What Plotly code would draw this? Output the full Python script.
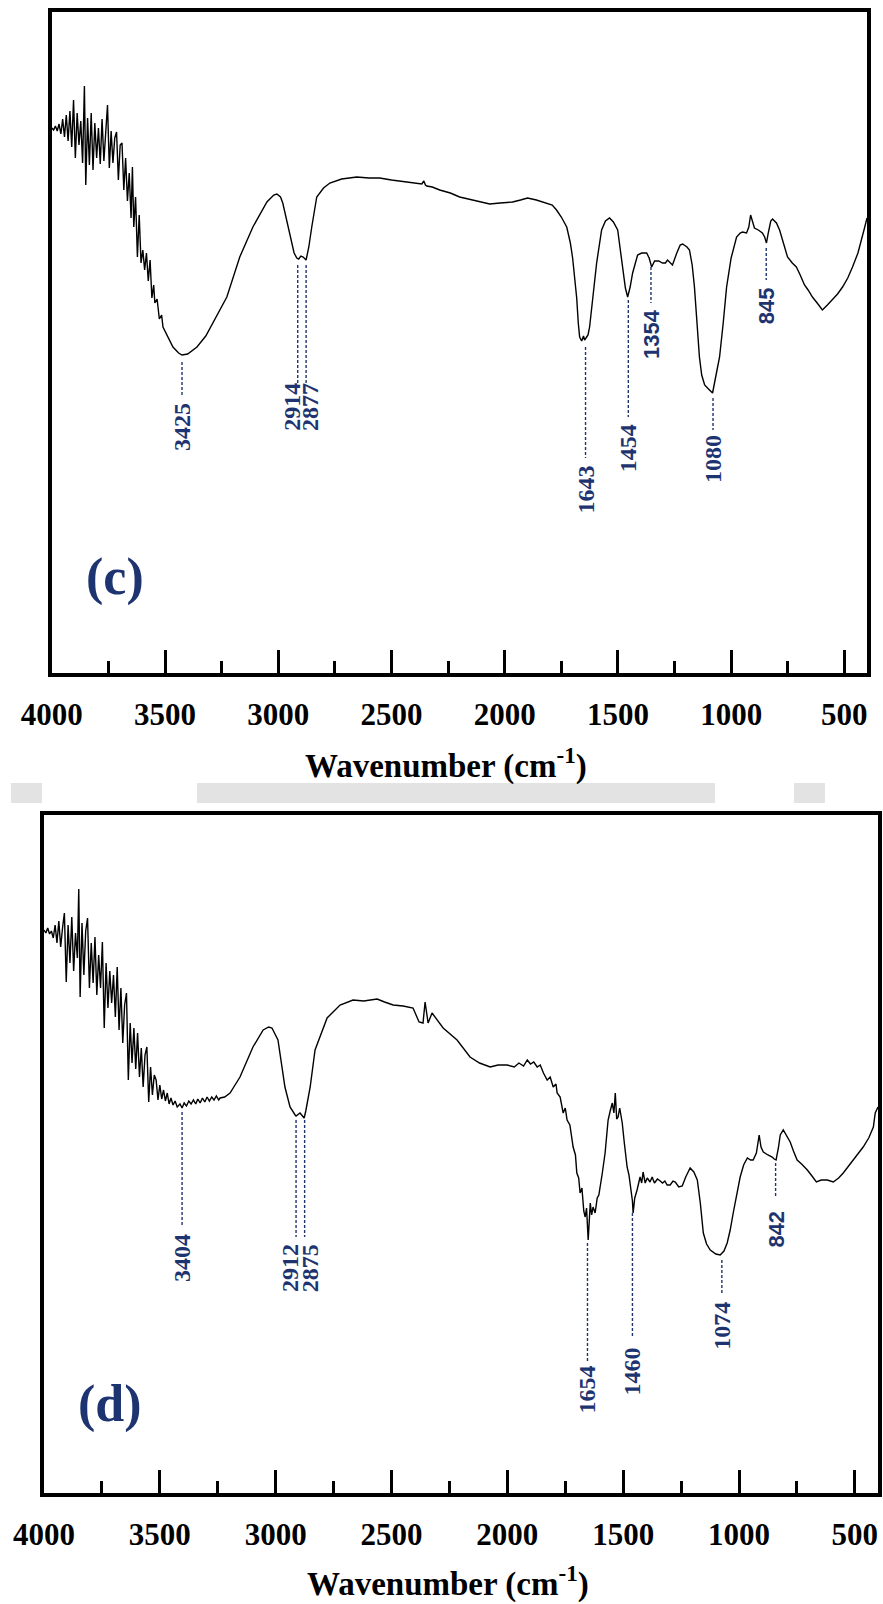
import plotly.graph_objects as go

# ---------------- Panel (c) spectrum (wavenumber cm-1, transmittance a.u.) ----------------
WN_C = [4000, 3992, 3984, 3976, 3968, 3960, 3952, 3944, 3936, 3928, 3920, 3912, 3904, 3896, 3888, 3880,
        3872, 3864, 3856, 3850, 3842, 3834, 3826, 3818, 3810, 3802, 3794, 3786, 3778, 3770, 3762, 3754,
        3746, 3738, 3730, 3722, 3714, 3706, 3698, 3690, 3682, 3674, 3666, 3658, 3650, 3644, 3638, 3630,
        3622, 3614, 3606, 3598, 3590, 3582, 3574, 3566, 3558, 3550, 3545, 3535, 3525, 3515, 3509,
        3465, 3440, 3425, 3400, 3359, 3320, 3289, 3227, 3170, 3112, 3050, 3020, 3006, 2990, 2980, 2965,
        2949, 2930, 2918, 2910, 2900, 2890, 2877, 2865, 2852, 2830, 2800, 2772, 2720, 2653, 2600, 2552,
        2500, 2433, 2400, 2366, 2357, 2350, 2344, 2320, 2287, 2240, 2199, 2130, 2066, 2020, 1965, 1930,
        1899, 1860, 1815, 1790, 1771, 1750, 1726, 1710, 1700, 1690, 1682, 1675, 1669, 1660, 1652, 1647,
        1640, 1632, 1625, 1610, 1594, 1572, 1555, 1537, 1520, 1501, 1490, 1479, 1467, 1457, 1446, 1435,
        1420, 1413, 1395, 1373, 1362, 1351, 1338, 1320, 1303, 1290, 1281, 1270, 1259, 1240, 1225, 1214,
        1195, 1184, 1172, 1162, 1150, 1140, 1130, 1117, 1100, 1082, 1070, 1051, 1035, 1020, 1000, 976,
        960, 950, 932, 922, 914, 905, 897, 880, 862, 852, 844, 836, 825, 817, 800, 786,
        770, 751, 730, 712, 695, 676, 660, 641, 620, 597, 575, 553, 530, 508, 485, 464,
        440, 411, 400]
T_C = [54.5, 54.3, 54.7, 54.2, 54.9, 53.9, 55.4, 53.6, 55.8, 53.2, 56.2, 52.6, 57.3, 51.5, 56.0, 52.8,
       55.2, 51.0, 58.7, 48.8, 55.5, 50.8, 56.0, 50.3, 55.0, 51.5, 54.5, 50.9, 55.4, 51.2, 54.0, 56.8,
       50.5, 54.2, 51.0, 53.5, 54.1, 49.3, 52.8, 53.0, 48.3, 51.5, 47.2, 50.0, 45.5, 50.6, 44.6, 47.6,
       41.6, 45.8, 41.0, 42.3, 40.3, 42.0, 39.2, 41.3, 37.5, 38.8, 37.0, 37.4, 35.4, 35.8, 34.6,
       32.6, 32.0, 31.8, 31.9, 32.6, 33.7, 35.0, 37.6, 41.6, 44.6, 47.1, 47.8, 47.9, 47.6, 47.0, 45.5,
       43.6, 42.0, 41.5, 41.4, 41.7, 41.6, 41.3, 42.6, 44.6, 47.6, 48.5, 49.0, 49.4, 49.6, 49.5, 49.5,
       49.3, 49.1, 49.0, 48.9, 49.2, 48.8, 48.7, 48.6, 48.3, 48.0, 47.6, 47.2, 46.9, 47.0, 47.1, 47.3,
       47.5, 47.3, 47.0, 46.8, 46.3, 45.6, 44.6, 43.0, 41.5, 39.5, 37.5, 35.0, 33.6, 33.2, 33.7, 33.3,
       33.6, 33.8, 34.6, 37.5, 41.0, 44.3, 45.2, 45.5, 45.1, 44.3, 42.5, 40.3, 38.5, 37.6, 38.6, 40.0,
       41.4, 41.8, 42.0, 42.0, 41.5, 40.6, 41.2, 41.2, 41.0, 41.0, 41.3, 41.0, 40.8, 42.0, 42.8, 42.9,
       42.6, 42.3, 40.8, 38.6, 34.8, 31.6, 29.8, 28.8, 28.4, 28.0, 29.4, 31.6, 35.0, 38.6, 41.5, 43.6,
       44.0, 44.1, 44.0, 44.6, 45.8, 45.0, 44.5, 44.3, 44.0, 43.6, 43.0, 44.0, 45.2, 45.4, 45.0, 44.3,
       43.0, 41.6, 41.0, 40.6, 39.8, 38.8, 38.3, 37.6, 37.0, 36.3, 36.8, 37.3, 37.9, 38.6, 39.5, 40.6,
       42.0, 44.5, 45.5]

# ---------------- Panel (d) spectrum ----------------
WN_D = [4000, 3992, 3984, 3976, 3968, 3960, 3952, 3944, 3936, 3928, 3920, 3912, 3904, 3896, 3888, 3880,
        3872, 3864, 3856, 3850, 3844, 3836, 3828, 3820, 3812, 3804, 3796, 3788, 3780, 3772, 3764, 3756,
        3748, 3740, 3732, 3724, 3716, 3708, 3700, 3692, 3684, 3676, 3668, 3660, 3652, 3644, 3636, 3628,
        3620, 3612, 3604, 3596, 3588, 3580, 3572, 3564, 3556, 3548, 3540, 3532, 3524, 3516, 3508, 3500,
        3492, 3484, 3476, 3468, 3460, 3452, 3443, 3434, 3425, 3413, 3404, 3395, 3385, 3375, 3365, 3355,
        3345, 3336, 3326, 3316, 3306, 3296, 3286, 3276, 3266, 3256, 3246, 3240, 3220, 3197, 3154, 3098,
        3054, 3030, 3016, 2990, 2960, 2938, 2916, 2912, 2895, 2877, 2870, 2851, 2830, 2778, 2722, 2666,
        2620, 2562, 2530, 2493, 2450, 2407, 2381, 2364, 2355, 2342, 2325, 2277, 2217, 2161, 2120, 2074,
        2040, 2001, 1970, 1950, 1930, 1914, 1900, 1886, 1871, 1858, 1844, 1828, 1815, 1802, 1790, 1785,
        1772, 1759, 1750, 1742, 1730, 1720, 1716, 1706, 1700, 1692, 1686, 1678, 1670, 1664, 1658, 1651,
        1646, 1642, 1636, 1630, 1621, 1612, 1605, 1599, 1590, 1578, 1570, 1565, 1556, 1547, 1540, 1534,
        1528, 1522, 1515, 1504, 1495, 1483, 1475, 1465, 1460, 1457, 1450, 1440, 1432, 1427, 1420, 1414,
        1405, 1396, 1384, 1375, 1365, 1352, 1340, 1330, 1320, 1310, 1297, 1285, 1275, 1260, 1245, 1230,
        1211, 1195, 1180, 1167, 1154, 1140, 1124, 1100, 1081, 1065, 1051, 1038, 1025, 1010, 995, 980,
        964, 950, 939, 925, 913, 905, 895, 875, 857, 848, 840, 830, 822, 809, 795, 779,
        765, 749, 730, 705, 685, 666, 645, 619, 593, 570, 550, 530, 507, 485, 464, 440,
        420, 412, 400]
T_D = [56.3, 56.0, 56.5, 55.9, 56.2, 55.5, 56.8, 55.0, 57.2, 54.6, 56.5, 58.0, 51.1, 56.8, 53.0, 57.6,
       52.2, 56.0, 53.5, 60.4, 49.6, 57.0, 51.8, 56.2, 57.5, 50.5, 55.0, 51.0, 55.6, 49.8, 53.8, 50.5,
       55.1, 46.5, 53.0, 48.5, 52.2, 49.0, 51.8, 47.6, 52.6, 46.3, 50.5, 45.0, 48.8, 50.0, 41.3, 47.0,
       43.0, 46.5, 42.4, 46.0, 41.6, 44.5, 40.6, 43.8, 44.6, 39.1, 42.6, 39.8, 41.8, 41.3, 39.3, 40.8,
       39.4, 40.3, 39.2, 40.0, 38.9, 39.5, 38.8, 39.2, 38.6, 38.9, 38.5, 39.0, 38.7, 39.2, 38.9, 39.3,
       38.9, 39.4, 39.0, 39.5, 39.1, 39.6, 39.2, 39.6, 39.3, 39.7, 39.3, 39.5, 39.6, 40.0, 41.6, 44.6,
       46.3, 46.6, 46.5, 45.3, 40.6, 38.6, 37.8, 37.7, 38.0, 37.5, 38.2, 40.6, 44.3, 47.5, 48.8, 49.3,
       49.2, 49.4, 49.1, 48.8, 48.7, 48.5, 47.1, 47.0, 49.1, 47.0, 48.0, 46.5, 45.3, 43.6, 43.0, 42.6,
       42.8, 42.8, 42.6, 43.0, 42.7, 43.3, 42.9, 43.1, 42.6, 42.8, 42.0, 41.3, 41.6, 40.6, 40.9, 40.0,
       39.6, 38.0, 38.5, 37.3, 36.8, 35.3, 34.6, 33.8, 32.0, 31.5, 30.0, 30.5, 28.2, 27.6, 28.5, 25.3,
       28.0, 29.0, 27.8, 28.6, 28.0, 29.5, 29.8, 30.6, 32.0, 34.0, 36.0, 37.3, 38.2, 39.0, 38.0, 40.0,
       37.4, 37.6, 38.5, 37.0, 35.0, 32.6, 31.8, 30.0, 29.2, 28.0, 29.5, 30.3, 31.2, 31.6, 31.0, 32.1,
       31.0, 31.5, 31.1, 31.6, 31.0, 31.4, 31.2, 31.0, 31.2, 30.8, 30.8, 31.2, 31.1, 30.6, 30.7, 31.6,
       32.5, 32.1, 31.3, 29.0, 26.0, 24.9, 24.3, 23.9, 23.8, 24.2, 25.0, 26.3, 28.0, 29.8, 31.6, 32.8,
       33.5, 33.3, 33.3, 34.0, 35.8, 34.6, 34.1, 33.8, 33.6, 33.4, 33.3, 34.5, 35.8, 36.3, 35.8, 35.1,
       34.2, 33.3, 32.9, 32.3, 31.7, 31.1, 31.3, 31.3, 31.1, 31.5, 32.0, 32.6, 33.3, 33.9, 34.6, 35.5,
       36.6, 38.0, 38.6]

# ---------------- Peak labels ----------------
PEAK_C = ["3425", "2914", "2877", "1643", "1454", "1354", "1080", "845"]
PEAK_C_WN = [3425, 2914, 2877, 1643, 1454, 1354, 1080, 845]
PEAK_C_LBL_WN = [3425, 2940, 2860, 1643, 1454, 1354, 1080, 845]
PEAK_C_TOP = [31.1, 40.8, 40.8, 32.6, 37.3, 40.6, 27.5, 42.5]
PEAK_C_BOT = [27.6, 29.0, 29.0, 21.5, 25.6, 37.0, 24.3, 39.3]
PEAK_C_TXT = [24.6, 26.6, 26.6, 18.3, 22.5, 33.9, 21.4, 36.7]
PEAK_C_SANS = [False, False, False, False, False, True, False, True]

PEAK_D = ["3404", "2912", "2875", "1654", "1460", "1074", "842"]
PEAK_D_WN = [3404, 2912, 2875, 1654, 1460, 1074, 842]
PEAK_D_LBL_WN = [3404, 2938, 2851, 1654, 1460, 1074, 842]
PEAK_D_TOP = [38.1, 37.3, 37.3, 25.0, 28.0, 23.3, 33.0]
PEAK_D_BOT = [26.8, 25.6, 25.6, 13.1, 15.6, 19.8, 29.6]
PEAK_D_TXT = [23.5, 22.5, 22.5, 10.4, 12.2, 16.7, 26.4]
PEAK_D_SANS = [False, False, False, False, False, False, True]

TICK_VALS = [4000, 3500, 3000, 2500, 2000, 1500, 1000, 500]
TICK_TEXT = ["4000", "3500", "3000", "2500", "2000", "1500", "1000", "500"]
MINOR_VALS = [3750, 3250, 2750, 2250, 1750, 1250, 750]

W, H = 883, 1604
NAVY = "#1d3470"
SERIF = "Liberation Serif, Times New Roman, serif"
SANS = "Liberation Sans, Arial, sans-serif"

fig = go.Figure()

panels = [
    dict(xa="x", ya="y", wn=WN_C, t=T_C, peaks=PEAK_C, pwn=PEAK_C_WN, lwn=PEAK_C_LBL_WN,
         top=PEAK_C_TOP, bot=PEAK_C_BOT, txt=PEAK_C_TXT, sans=PEAK_C_SANS,
         px=(51.8, 867.0), py=(11.7, 673.0), yr=66.13, letter="(c)", lpos=(3721, 9.6),
         title_px=(446, 763)),
    dict(xa="x2", ya="y2", wn=WN_D, t=T_D, peaks=PEAK_D, pwn=PEAK_D_WN, lwn=PEAK_D_LBL_WN,
         top=PEAK_D_TOP, bot=PEAK_D_BOT, txt=PEAK_D_TXT, sans=PEAK_D_SANS,
         px=(44.0, 878.0), py=(815.0, 1493.0), yr=67.8, letter="(d)", lpos=(3715, 8.9),
         title_px=(448, 1581)),
]

annotations = []
for i, p in enumerate(panels):
    fig.add_trace(go.Scatter(x=p["wn"], y=p["t"], mode="lines", xaxis=p["xa"], yaxis=p["ya"],
                             line=dict(color="black", width=1.4), showlegend=False))
    for k, lab in enumerate(p["peaks"]):
        fig.add_trace(go.Scatter(x=[p["pwn"][k], p["pwn"][k]], y=[p["top"][k], p["bot"][k]],
                                 mode="lines", xaxis=p["xa"], yaxis=p["ya"], showlegend=False,
                                 line=dict(color=NAVY, width=1.4, dash="3px,2px")))
        annotations.append(dict(
            x=p["lwn"][k], y=p["txt"][k], xref=p["xa"], yref=p["ya"], text=lab,
            showarrow=False, textangle=-90, xanchor="center", yanchor="middle",
            font=dict(family=SANS if p["sans"][k] else SERIF, size=22 if p["sans"][k] else 24,
                      color=NAVY, weight="bold")))
    annotations.append(dict(x=p["lpos"][0], y=p["lpos"][1], xref=p["xa"], yref=p["ya"],
                            text=p["letter"], showarrow=False, xanchor="center", yanchor="middle",
                            font=dict(family=SERIF, size=52, color=NAVY, weight="bold")))
    annotations.append(dict(x=p["title_px"][0] / W, y=1 - p["title_px"][1] / H, xref="paper",
                            yref="paper", text="Wavenumber (cm<sup>-1</sup>)", showarrow=False,
                            xanchor="center", yanchor="middle",
                            font=dict(family=SERIF, size=33, color="black", weight="bold")))

    xdom = [p["px"][0] / W, p["px"][1] / W]
    ydom = [1 - p["py"][1] / H, 1 - p["py"][0] / H]
    xkey = "xaxis" if i == 0 else "xaxis2"
    ykey = "yaxis" if i == 0 else "yaxis2"
    fig.update_layout(**{
        xkey: dict(domain=xdom, range=[4000, 400], anchor=p["ya"], showline=True, mirror=True,
                   linecolor="black", linewidth=3.5, ticks="inside", ticklen=23, tickwidth=2.5,
                   tickcolor="black", tickvals=TICK_VALS, ticktext=TICK_TEXT, showgrid=False,
                   zeroline=False, ticklabelstandoff=11, automargin=False,
                   tickfont=dict(family=SERIF, size=31, color="black", weight="bold"),
                   minor=dict(ticks="inside", ticklen=12, tickwidth=2.5, tickcolor="black",
                              tickvals=MINOR_VALS, showgrid=False)),
        ykey: dict(domain=ydom, range=[0, p["yr"]], anchor=p["xa"], showline=True, mirror=True,
                   linecolor="black", linewidth=3.5, ticks="", showticklabels=False,
                   showgrid=False, zeroline=False, automargin=False),
    })

# faint grey watermark band between the panels
shapes = []
for x0, x1 in [(11, 42), (197, 715), (794, 825)]:
    shapes.append(dict(type="rect", xref="paper", yref="paper", x0=x0 / W, x1=x1 / W,
                       y0=1 - 803 / H, y1=1 - 783 / H, fillcolor="#e3e3e3", line=dict(width=0),
                       layer="below"))

fig.update_layout(width=W, height=H,
                  margin=dict(l=0, r=0, t=0, b=0, pad=0, autoexpand=False),
                  paper_bgcolor="white", plot_bgcolor="white",
                  annotations=annotations, shapes=shapes, showlegend=False)

fig.write_html("out.html")
